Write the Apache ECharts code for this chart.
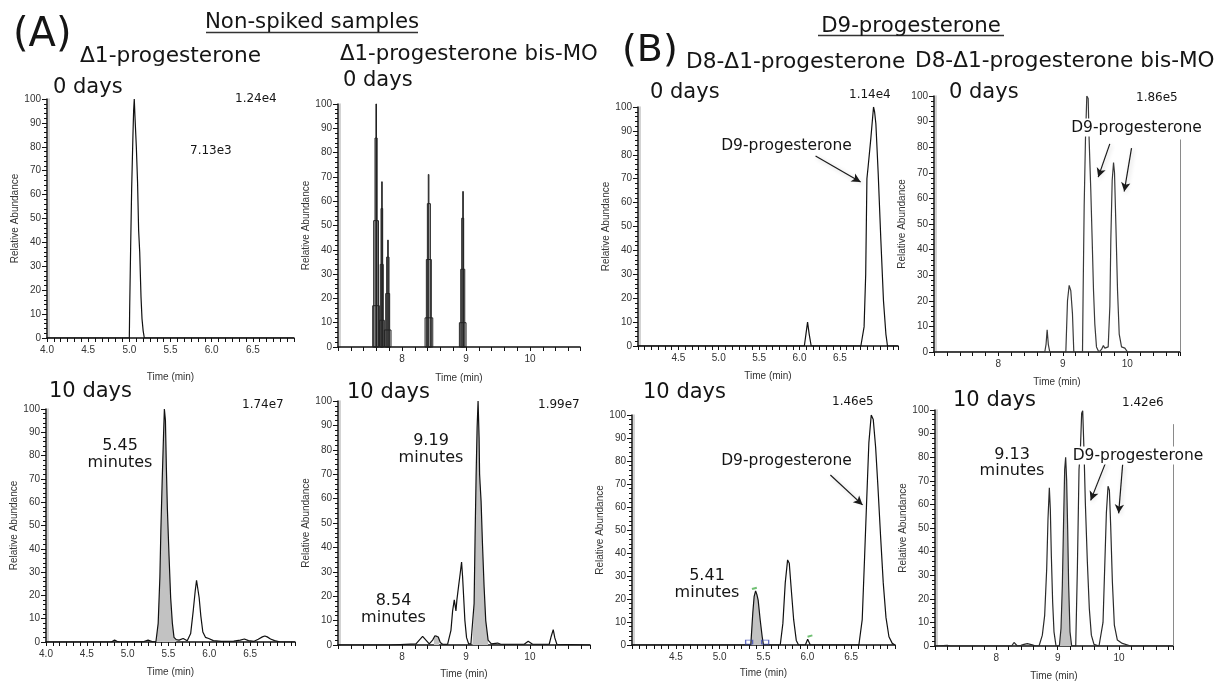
<!DOCTYPE html>
<html>
<head>
<meta charset="utf-8">
<script src="https://cdn.jsdelivr.net/npm/echarts@6/dist/echarts.min.js"></script>
<style>
  html, body { margin: 0; padding: 0; background: #fff; }
  #chart { width: 1217px; height: 682px; }
</style>
</head>
<body>
<div id="chart"></div>
<script>
// ---------- chromatogram traces: [time (min), relative abundance (%)] ----------
const p1Trace = [[4.0,0],[5.0,0],[5.004,12],[5.016,38],[5.028,62],[5.044,85],[5.052,95],[5.06,100],[5.068,93],[5.085,80],[5.1,65],[5.113,45],[5.126,36],[5.142,17],[5.154,8],[5.168,3],[5.182,0],[7.0,0]];

// Δ1-progesterone bis-MO, 0 days: low-resolution scans drawn as nested boxes
const p2BoxStart = [7.542,7.557,7.578,7.592, 7.646,7.66,7.672,7.682, 7.724,7.745,7.76,7.776, 8.36,8.38,8.396,8.41, 8.896,8.917,8.932,8.948];
const p2BoxEnd   = [7.646,7.632,7.612,7.597, 7.724,7.707,7.698,7.687, 7.828,7.807,7.797,7.781, 8.48,8.458,8.443,8.42, 9.0,8.98,8.963,8.958];
const p2BoxLevel = [17,52,86,100, 11,34,57,68, 7,22,37,44, 12,36,59,71, 10,32,53,64];

const p3Trace = [[4.0,0],[6.06,0],[6.08,5],[6.1,10],[6.12,5],[6.145,0],[6.76,0],[6.8,8],[6.82,30],[6.835,70],[6.85,75],[6.884,87],[6.917,100],[6.93,98],[6.946,93],[6.975,72],[7.008,44],[7.04,19],[7.07,5],[7.09,0],[7.22,0]];

const p4Trace = [[7.0,0],[8.72,0],[8.74,3],[8.757,8.7],[8.775,3],[8.798,0],[9.047,0],[9.073,20],[9.099,26],[9.124,24],[9.15,15],[9.171,0],[9.306,0],[9.316,24],[9.332,57],[9.352,83],[9.373,100],[9.394,99],[9.409,83],[9.435,63],[9.456,44],[9.477,24],[9.497,11],[9.523,2],[9.56,0],[9.601,1],[9.63,2.5],[9.653,1.5],[9.705,2],[9.731,18],[9.746,44],[9.767,67],[9.788,74],[9.803,70],[9.824,50],[9.85,24],[9.876,7],[9.912,2],[9.964,1.5],[10.005,0],[10.82,0]];

const p5Trace = [[4.0,0],[4.8,0],[4.84,0.8],[4.87,0.3],[4.9,0],[5.2,0.2],[5.25,0.8],[5.3,0.2],[5.346,0],[5.374,8],[5.395,28],[5.407,48],[5.423,69],[5.439,88],[5.45,100],[5.463,95],[5.475,74],[5.487,57],[5.507,37],[5.527,19],[5.548,8],[5.568,2],[5.596,1],[5.63,0.8],[5.68,1.5],[5.73,0.5],[5.772,3.6],[5.804,13.6],[5.828,22],[5.844,26.5],[5.86,26],[5.876,19],[5.897,11],[5.921,4.3],[5.953,2],[5.993,1.5],[6.05,0.6],[6.15,0.3],[6.3,0.4],[6.38,0.8],[6.43,1.3],[6.48,0.6],[6.55,0.3],[6.6,1.2],[6.65,2.2],[6.68,2.6],[6.71,2.2],[6.75,1.3],[6.8,0.6],[6.86,0.1],[7.05,0]];
const p5Fill = [[5.346,0],[5.374,8],[5.395,28],[5.407,48],[5.423,69],[5.439,88],[5.45,100],[5.463,95],[5.475,74],[5.487,57],[5.507,37],[5.527,19],[5.548,8],[5.568,2],[5.596,1]];

const p6Trace = [[7.0,0],[7.75,0],[7.78,0.6],[7.81,0],[8.219,0.5],[8.271,2],[8.323,3.5],[8.375,2],[8.427,0.5],[8.479,2],[8.516,3.8],[8.542,4.2],[8.568,3.3],[8.599,1],[8.635,0.3],[8.713,0.3],[8.74,0.5],[8.766,6],[8.792,14],[8.818,18.5],[8.844,14],[8.859,18.5],[8.885,24],[8.911,29.4],[8.932,34],[8.948,28],[8.964,20],[8.984,10],[9.01,3],[9.042,0.5],[9.078,0.5],[9.102,0.5],[9.128,17],[9.143,44],[9.159,69],[9.175,89],[9.19,100],[9.206,85],[9.214,70],[9.222,66],[9.237,59],[9.258,42],[9.284,24],[9.31,10],[9.347,2],[9.398,0.5],[9.495,0.8],[9.547,0.3],[9.911,0.3],[9.974,1.5],[10.0,1.5],[10.042,0.3],[10.302,0.3],[10.333,3.5],[10.365,6.3],[10.39,2.9],[10.422,0.3],[10.94,0]];
const p6FillMain = [[9.102,0.5],[9.128,17],[9.143,44],[9.159,69],[9.175,89],[9.19,100],[9.206,85],[9.214,70],[9.222,66],[9.237,59],[9.258,42],[9.284,24],[9.31,10],[9.347,2]];
const p6FillMinor = [[8.5,3],[8.516,3.8],[8.542,4.2],[8.568,3.3],[8.58,2.4]];

const p7Trace = [[4.0,0],[5.355,0],[5.378,14],[5.393,21],[5.41,23.5],[5.424,22],[5.439,19.5],[5.462,11],[5.485,3.6],[5.5,0],[5.691,0],[5.721,9.4],[5.748,27],[5.775,37],[5.794,35.5],[5.817,24],[5.844,11],[5.874,2],[5.9,0],[5.977,0],[6.004,2.5],[6.034,0],[6.588,0],[6.626,11],[6.653,38],[6.676,62],[6.702,88],[6.729,100],[6.752,98],[6.779,86],[6.805,69],[6.836,47],[6.866,27],[6.897,12],[6.931,3.6],[6.969,0.7],[7.0,0]];
const p7Fill = [[5.355,0],[5.378,14],[5.393,21],[5.41,23.5],[5.424,22],[5.439,19.5],[5.462,11],[5.485,3.6],[5.5,0]];
const p7Bounds = [[5.336,1.2],[5.519,1.2]];
const p7Flags = [[5.396,24.6],[6.03,3.9]];

const p8Trace = [[7.0,0],[7.2,0.3],[7.25,0],[8.25,0],[8.288,1.5],[8.315,2.1],[8.342,0],[8.4,0.3],[8.451,0.7],[8.505,1],[8.587,0.5],[8.641,0],[8.696,0],[8.75,4.6],[8.788,13],[8.821,32.7],[8.842,53.7],[8.864,67],[8.88,58],[8.897,38],[8.918,18.6],[8.94,6],[8.973,0],[9.027,0],[9.054,7.4],[9.076,25.7],[9.097,53.7],[9.114,74.8],[9.13,80],[9.146,70.5],[9.163,49.5],[9.179,25.7],[9.201,6],[9.228,0],[9.294,0],[9.321,32.7],[9.348,74.8],[9.37,83],[9.391,98.6],[9.408,99.7],[9.43,82],[9.451,60.7],[9.484,35.5],[9.516,15.8],[9.549,4.6],[9.592,0.7],[9.674,0],[9.701,0],[9.739,10],[9.766,32.7],[9.794,56.5],[9.821,67.7],[9.843,66],[9.864,51],[9.892,27],[9.924,8.8],[9.973,2.5],[10.054,1.1],[10.19,0],[10.72,0],[10.75,0.4],[10.78,0],[10.88,0]];
const p8Fill = [[9.027,0],[9.054,7.4],[9.076,25.7],[9.097,53.7],[9.114,74.8],[9.13,80],[9.146,70.5],[9.163,49.5],[9.179,25.7],[9.201,6],[9.228,0]];

// arrows pointing at the D9-progesterone peaks: [from, to] in data units
const p3Arrows = [[[6.199,79.5],[6.757,68.6]]];
const p4Arrows = [[[9.73,81.3],[9.55,68.3]], [[10.067,79.6],[9.954,62.7]]];
const p7Arrows = [[[6.263,73.9],[6.63,60.9]]];
const p8Arrows = [[[9.782,77.7],[9.538,61.7]], [[10.059,76.9],[9.994,56.2]]];

// ---------- tick labels ----------
const yTickLabels = [0,10,20,30,40,50,60,70,80,90,100];
const xLabelsA = [4.0,4.5,5.0,5.5,6.0,6.5];
const xLabelsB = [4.5,5.0,5.5,6.0,6.5];
const xLabelsMin = [8,9,10];

// ---------- panel layout ----------
const panels = [
  { grid:{left:47,  right:923, top:99,  bottom:344}, min:4, max:7.0,  step:1/12, labels:xLabelsA,  dec:1, nameGap:34 },
  { grid:{left:338, right:637, top:104, bottom:335}, min:7, max:10.78, step:0.2, labels:xLabelsMin, dec:0, nameGap:26 },
  { grid:{left:638, right:319, top:107, bottom:336}, min:4, max:7.22, step:1/12, labels:xLabelsB,  dec:1, nameGap:25 },
  { grid:{left:934, right:37,  top:96,  bottom:330}, min:7, max:10.82, step:0.2, labels:xLabelsMin, dec:0, nameGap:25 },
  { grid:{left:46,  right:922, top:409, bottom:40},  min:4, max:7.05, step:1/12, labels:xLabelsA,  dec:1, nameGap:25 },
  { grid:{left:338, right:627, top:401, bottom:37},  min:7, max:10.94, step:0.2, labels:xLabelsMin, dec:0, nameGap:24 },
  { grid:{left:632, right:322, top:415, bottom:37},  min:4, max:7.0,  step:1/12, labels:xLabelsB,  dec:1, nameGap:23 },
  { grid:{left:935, right:44,  top:410, bottom:34},  min:7, max:10.88, step:0.2, labels:xLabelsMin, dec:0, nameGap:25 }
];

const axisFont = { fontFamily: 'Liberation Sans', fontSize: 10, color: '#333' };
const mainFont = "'DejaVu Sans', sans-serif";

const grids = panels.map(p => Object.assign({ containLabel: false }, p.grid));

const xAxes = panels.map((p, i) => ({
  type: 'value', gridIndex: i, min: p.min, max: p.max, interval: p.step,
  name: 'Time (min)', nameLocation: 'middle', nameGap: p.nameGap,
  nameTextStyle: Object.assign({}, axisFont),
  axisLine: { show: true, onZero: false, lineStyle: { color: '#111', width: 1.5 } },
  axisTick: { show: true, length: 4, lineStyle: { color: '#111', width: 1 } },
  minorTick: { show: false },
  splitLine: { show: false },
  axisLabel: Object.assign({
    margin: 7, showMinLabel: true, showMaxLabel: true,
    formatter: v => {
      const hit = p.labels.find(l => Math.abs(l - v) < 1e-6);
      return hit === undefined ? '' : hit.toFixed(p.dec);
    }
  }, axisFont)
}));

const yAxes = panels.map((p, i) => ({
  type: 'value', gridIndex: i, min: 0, max: 100, interval: 10,
  name: 'Relative Abundance', nameLocation: 'middle', nameGap: 26, nameRotate: 90,
  nameTextStyle: Object.assign({}, axisFont),
  axisLine: { show: true, lineStyle: { color: '#111', width: 1.5, shadowColor: '#c4c4c4', shadowOffsetX: 2, shadowBlur: 0 } },
  axisTick: { show: true, length: 5, lineStyle: { color: '#111' } },
  minorTick: { show: true, splitNumber: 5, length: 3, lineStyle: { color: '#111' } },
  splitLine: { show: false },
  axisLabel: Object.assign({
    margin: 6,
    formatter: v => (yTickLabels.indexOf(Math.round(v)) >= 0 ? String(Math.round(v)) : '')
  }, axisFont)
}));

function trace(i, data, color, extra) {
  return Object.assign({
    type: 'line', xAxisIndex: i, yAxisIndex: i, data: data,
    symbol: 'none', showSymbol: false, silent: true, z: 3,
    lineStyle: { color: color || '#111', width: 1.2 }
  }, extra || {});
}
function fill(i, data) {
  return {
    type: 'line', xAxisIndex: i, yAxisIndex: i, data: data,
    symbol: 'none', showSymbol: false, silent: true, z: 2,
    lineStyle: { width: 0, opacity: 0 },
    areaStyle: { color: '#c2c2c2', opacity: 1 }
  };
}
function arrows(list) {
  return {
    silent: true, animation: false,
    symbol: ['none', 'arrow'], symbolSize: [7, 9],
    label: { show: false },
    lineStyle: { color: '#1a1a1a', width: 1.2, type: 'solid',
      shadowColor: 'rgba(0,0,0,0.22)', shadowBlur: 4, shadowOffsetX: 1.5, shadowOffsetY: 1.5 },
    data: list.map(a => [{ coord: a[0] }, { coord: a[1] }])
  };
}
function frameLine(x, top) {
  return {
    silent: true, animation: false, symbol: ['none', 'none'],
    label: { show: false },
    lineStyle: { color: '#8a8a8a', width: 1, type: 'solid' },
    data: [[{ coord: [x, 0] }, { coord: [x, top] }]]
  };
}

const p2Boxes = p2BoxStart.map((s, k) => [s, p2BoxEnd[k], p2BoxLevel[k]]);

const series = [
  trace(0, p1Trace),
  {
    type: 'custom', xAxisIndex: 1, yAxisIndex: 1, data: p2Boxes, silent: true, z: 3,
    encode: { x: [0, 1], y: 2 },
    renderItem: (params, api) => {
      const a = api.coord([api.value(0), 0]);
      const b = api.coord([api.value(1), api.value(2)]);
      return {
        type: 'rect',
        shape: { x: a[0], y: b[1], width: Math.max(b[0] - a[0], 0.6), height: a[1] - b[1] },
        style: { fill: 'none', stroke: '#222', lineWidth: 1 }
      };
    }
  },
  trace(2, p3Trace, '#111', { markLine: arrows(p3Arrows) }),
  trace(3, p4Trace, '#3a3a3a', { markLine: arrows(p4Arrows) }),
  trace(3, [[10.82, 0]], '#8a8a8a', { markLine: frameLine(10.82, 83) }),
  fill(4, p5Fill),
  trace(4, p5Trace),
  fill(5, p6FillMain),
  fill(5, p6FillMinor),
  trace(5, p6Trace),
  fill(6, p7Fill),
  trace(6, p7Trace, '#111', { markLine: arrows(p7Arrows) }),
  {
    type: 'scatter', xAxisIndex: 6, yAxisIndex: 6, data: p7Bounds, silent: true, z: 4,
    symbol: 'rect', symbolSize: [7, 4],
    itemStyle: { color: 'rgba(0,0,0,0)', borderColor: '#3b49b5', borderWidth: 1 }
  },
  {
    type: 'scatter', xAxisIndex: 6, yAxisIndex: 6, data: p7Flags, silent: true, z: 4,
    symbol: 'rect', symbolSize: [5, 2], symbolRotate: 15,
    itemStyle: { color: '#4cb050' }
  },
  fill(7, p8Fill),
  trace(7, p8Trace, '#2a2a2a', { markLine: arrows(p8Arrows) }),
  trace(7, [[10.88, 0]], '#8a8a8a', { markLine: frameLine(10.88, 94) })
];

// ---------- headings and annotations: [text, x, y, size, align, opaque] ----------
const texts = [
  ['(A)', 13, 36, 40, 'left'],
  ['Non-spiked samples', 312, 22, 21.3, 'center'],
  ['Δ1-progesterone', 80, 56, 21.7, 'left'],
  ['Δ1-progesterone bis-MO', 340, 54.5, 21.3, 'left'],
  ['(B)', 622, 51, 38, 'left'],
  ['D9-progesterone', 911, 26, 21.3, 'center'],
  ['D8-Δ1-progesterone', 686, 62.5, 21.7, 'left'],
  ['D8-Δ1-progesterone bis-MO', 915, 61, 21.6, 'left'],
  ['0 days', 53, 87.5, 21, 'left'],
  ['0 days', 343, 81, 21, 'left'],
  ['0 days', 650, 93, 21, 'left'],
  ['0 days', 949, 93, 21, 'left'],
  ['10 days', 49, 392, 21, 'left'],
  ['10 days', 347, 392.5, 21, 'left'],
  ['10 days', 643, 393, 21, 'left'],
  ['10 days', 953, 401, 21, 'left'],
  ['1.24e4', 235, 99, 12, 'left'],
  ['7.13e3', 190, 151, 12, 'left'],
  ['1.14e4', 849, 95, 12, 'left'],
  ['1.86e5', 1136, 98, 12, 'left'],
  ['1.74e7', 242, 405, 12, 'left'],
  ['1.99e7', 538, 405, 12, 'left'],
  ['1.46e5', 832, 402, 12, 'left'],
  ['1.42e6', 1122, 403, 12, 'left'],
  ['5.45', 120, 446, 16, 'center'],
  ['minutes', 120, 463, 16, 'center'],
  ['9.19', 431, 440.5, 16, 'center'],
  ['minutes', 431, 457.5, 16, 'center'],
  ['8.54', 393.5, 600.5, 16, 'center'],
  ['minutes', 393.5, 618, 16, 'center'],
  ['5.41', 707, 575.5, 16, 'center'],
  ['minutes', 707, 592.5, 16, 'center'],
  ['9.13', 1012, 454.5, 16, 'center'],
  ['minutes', 1012, 471, 16, 'center'],
  ['D9-progesterone', 786.5, 146, 15.5, 'center'],
  ['D9-progesterone', 1136.5, 127.5, 15.5, 'center', true],
  ['D9-progesterone', 786.5, 461, 15.5, 'center'],
  ['D9-progesterone', 1138, 455.5, 15.5, 'center', true]
];

const graphic = texts.map(t => ({
  type: 'text', x: t[1], y: t[2], silent: true, z: 10,
  style: Object.assign(
    { text: t[0], font: t[3] + 'px ' + mainFont, fill: '#151515', align: t[4], verticalAlign: 'middle' },
    t[5] ? { backgroundColor: '#ffffff', padding: [1, 2] } : {}
  )
}));
// underlines of the two group headings
graphic.push({ type: 'line', silent: true, shape: { x1: 206, y1: 32.5, x2: 418, y2: 32.5 }, style: { stroke: '#333', lineWidth: 1.5 } });
graphic.push({ type: 'line', silent: true, shape: { x1: 818, y1: 35.5, x2: 1004, y2: 35.5 }, style: { stroke: '#333', lineWidth: 1.5 } });

const chart = echarts.init(document.getElementById('chart'), null, { renderer: 'canvas' });
chart.setOption({
  animation: false,
  backgroundColor: '#ffffff',
  grid: grids,
  xAxis: xAxes,
  yAxis: yAxes,
  series: series,
  graphic: graphic
});
</script>
</body>
</html>
